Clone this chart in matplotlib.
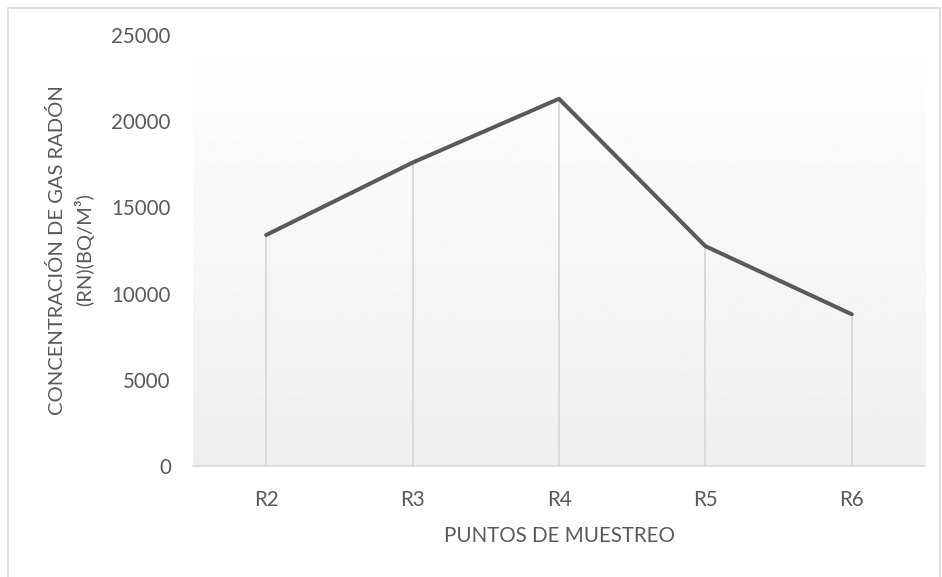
import numpy as np
import matplotlib.pyplot as plt
from matplotlib.patches import Rectangle

# data
puntos = ["R2", "R3", "R4", "R5", "R6"]
concentracion = [13400, 17600, 21300, 12750, 8800]
y_ticks = [0, 5000, 10000, 15000, 20000, 25000]

text_color = "#595959"
plt.rcParams['font.family'] = ['Lato', 'DejaVu Sans']

fig = plt.figure(figsize=(9.42, 5.77), dpi=100)
ax = fig.add_axes([193 / 942, 1 - 466 / 577, 732 / 942, 431 / 577])

x = np.arange(len(puntos))
ax.set_xlim(-0.5, len(puntos) - 0.5)
ax.set_ylim(0, 25000)

# plot area gradient: white at top, light gray at bottom
grad = np.linspace(1.0, 0.935, 256).reshape(-1, 1)
ax.imshow(grad, cmap='gray', vmin=0, vmax=1, aspect='auto',
          extent=[-0.5, len(puntos) - 0.5, 0, 25000], origin='upper', zorder=0)

# drop lines
ax.vlines(x, 0, concentracion, colors="#d9d9d9", linewidth=1.4, zorder=1)
ax.plot(x, concentracion, color="#595959", linewidth=2.9,
        solid_capstyle='round', solid_joinstyle='round', zorder=2)

ax.set_xticks(x)
ax.set_xticklabels(puntos)
ax.set_yticks(y_ticks)
ax.set_yticklabels([str(v) for v in y_ticks])
ax.tick_params(axis='both', length=0, labelsize=14.8, labelcolor=text_color)
ax.tick_params(axis='x', pad=17)
ax.tick_params(axis='y', pad=16)

for side in ['top', 'right', 'left']:
    ax.spines[side].set_visible(False)
ax.spines['bottom'].set_color("#d9d9d9")
ax.spines['bottom'].set_linewidth(1.2)

ax.set_xlabel("PUNTOS DE MUESTREO", fontsize=14.8, color=text_color, labelpad=12)
fig.text(71 / 942, 1 - 250 / 577, "CONCENTRACIÓN DE GAS RADÓN\n(RN)(BQ/M³)",
         rotation=90, ha='center', va='center', fontsize=14.5, color=text_color,
         linespacing=1.45)

# outer chart border
fig.patches.append(Rectangle((8 / 942, -0.05), 932 / 942, 1.05 - 8 / 577,
                             transform=fig.transFigure, fill=False,
                             edgecolor="#d9d9d9", linewidth=1.2))

fig.savefig("out.png", dpi=100)
